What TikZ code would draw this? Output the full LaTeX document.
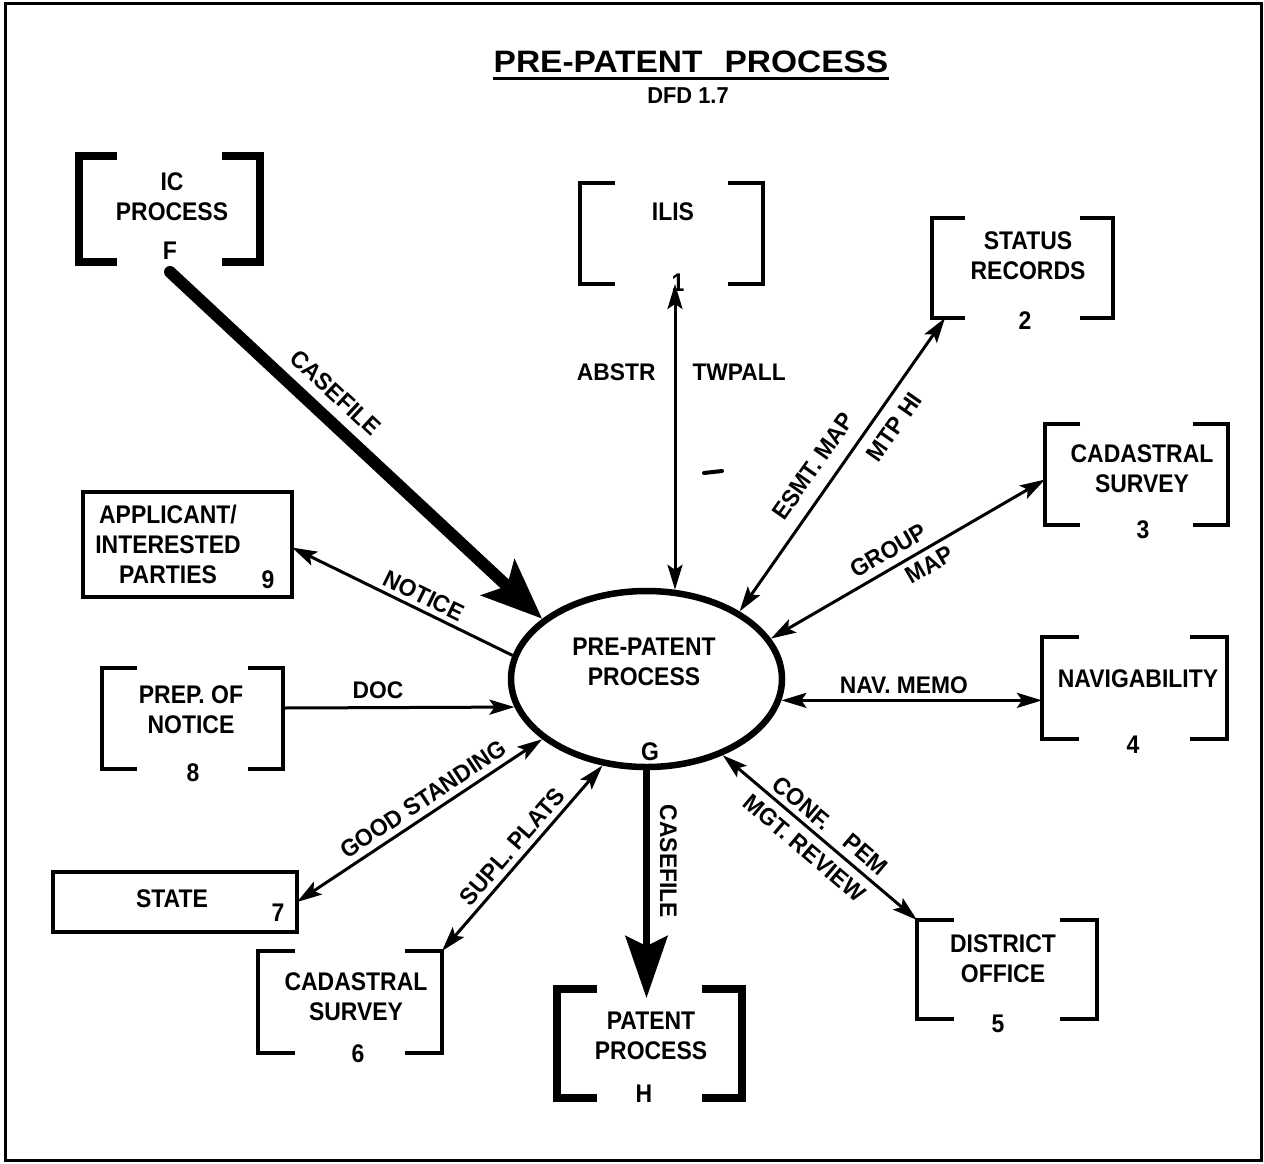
\documentclass[tikz,border=0pt]{standalone}
\usepackage{fontspec}
\setmainfont{Liberation Sans}
\newfontfamily\dfdfont{Liberation Sans Bold}[FakeStretch=0.95]
\newfontfamily\dfdboxfont{Liberation Sans Bold}[FakeStretch=0.9]
\newfontfamily\dfdtitlefont{Liberation Sans Bold}[FakeStretch=1.08]
\usetikzlibrary{arrows.meta,shapes.geometric}

% open-sided store symbol: two brackets around a node
\newcommand{\dfdbrackets}[3]{%
  \draw[line width=#3] ([xshift=#2]#1.north west) -| (#1.south west) -- ([xshift=#2]#1.south west);
  \draw[line width=#3] ([xshift=-#2]#1.north east) -| (#1.south east) -- ([xshift=-#2]#1.south east);}

\tikzset{
  lbl/.style={font=\dfdfont\fontsize{24}{30}\selectfont, inner sep=2pt, align=center},
  txt/.style={font=\dfdboxfont\fontsize{25.5}{30}\selectfont, inner sep=2pt, align=center},
  bbox/.style={inner sep=0pt, outer sep=0pt},
  rbox/.style={draw, line width=4pt, inner sep=0pt, outer sep=0pt},
  flow/.style={line width=3pt},
  >={Stealth[length=25pt,width=15pt,inset=5pt]}
}

\begin{document}
\begin{tikzpicture}[x=1pt,y=-1pt]
\useasboundingbox (0,0) rectangle (1264,1163);
\draw[line width=3pt] (5,3) rectangle (1261,1160);

% title
\node[font=\dfdtitlefont\fontsize{31}{31}\selectfont, inner sep=0pt] (title) at (691,62) {PRE-PATENT\hspace{22pt}PROCESS};
\draw[line width=3pt] ([yshift=-5pt]title.south west) -- ([yshift=-5pt]title.south east);
\node[font=\dfdfont\fontsize{23}{23}\selectfont, inner sep=0pt] (dfd) at (688,96) {DFD 1.7};

% central process
\node[ellipse, draw, line width=6.5pt, minimum width=271pt, minimum height=176pt, inner sep=0pt] (pp) at (646.5,679) {};
\node[txt] (ppt) at (644,661.5) {PRE-PATENT\\PROCESS};
\node[txt] (ppg) at (650,752) {G};

% stores and externals
\node[bbox, minimum width=181pt, minimum height=106pt] (ic) at (169.5,209) {};
\dfdbrackets{ic}{38pt}{8pt}
\node[txt] (ict) at (172,197) {IC\\PROCESS};
\node[txt] (icf) at (170,251) {F};

\node[bbox, minimum width=183pt, minimum height=101pt] (ilis) at (671.5,233.5) {};
\dfdbrackets{ilis}{35pt}{4pt}
\node[txt] (ilist) at (673,212) {ILIS};
\node[txt] (n1) at (678,283) {1};

\node[bbox, minimum width=181pt, minimum height=100pt] (status) at (1022.5,268) {};
\dfdbrackets{status}{33pt}{4pt}
\node[txt] (statust) at (1028,256) {STATUS\\RECORDS};
\node[txt] (n2) at (1025,321) {2};

\node[bbox, minimum width=183pt, minimum height=101pt] (cad3) at (1136.5,474.5) {};
\dfdbrackets{cad3}{35pt}{4pt}
\node[txt] (cad3t) at (1142,469) {CADASTRAL\\SURVEY};
\node[txt] (n3) at (1143,530) {3};

\node[bbox, minimum width=185pt, minimum height=102pt] (nav) at (1134.5,688) {};
\dfdbrackets{nav}{37pt}{4pt}
\node[txt] (navt) at (1138,679) {NAVIGABILITY};
\node[txt] (n4) at (1133,745) {4};

\node[bbox, minimum width=180pt, minimum height=99pt] (district) at (1007,969.5) {};
\dfdbrackets{district}{37pt}{4pt}
\node[txt] (districtt) at (1003,959) {DISTRICT\\OFFICE};
\node[txt] (n5) at (998,1024) {5};

\node[bbox, minimum width=185pt, minimum height=109pt] (patent) at (649.5,1043.5) {};
\dfdbrackets{patent}{40pt}{8pt}
\node[txt] (patentt) at (651,1036) {PATENT\\PROCESS};
\node[txt] (nh) at (644,1094) {H};

\node[bbox, minimum width=184pt, minimum height=102pt] (cad6) at (350,1002) {};
\dfdbrackets{cad6}{37pt}{4pt}
\node[txt] (cad6t) at (356,997) {CADASTRAL\\SURVEY};
\node[txt] (n6) at (358,1054) {6};

\node[rbox, minimum width=244pt, minimum height=60pt] (state) at (175,902) {};
\node[txt] (statet) at (172,899) {STATE};
\node[txt] (n7) at (278,913) {7};

\node[bbox, minimum width=181pt, minimum height=101pt] (prep) at (192.5,718.5) {};
\dfdbrackets{prep}{35pt}{4pt}
\node[txt] (prept) at (191,710) {PREP. OF\\NOTICE};
\node[txt] (n8) at (193,773) {8};

\node[rbox, minimum width=209pt, minimum height=105pt] (app) at (187.5,544.5) {};
\node[txt] (appt) at (168,544) {APPLICANT/\\INTERESTED\\PARTIES};
\node[txt] (n9) at (268,580) {9};

% connector end points
\path (ilis.south) ++(3.5,0) coordinate (ilisB);
\path (ilisB |- pp.north) ++(0,2) coordinate (ilisT);
\path (status.south west) ++(13,0) coordinate (statusB);
\path (cad3.west) ++(0,5) coordinate (cad3W);
\path (prep.east) ++(0,-10.5) coordinate (docS);
\path (app.east) ++(0,3) coordinate (appE);
\path (pp.south |- patent.north) ++(0,9) coordinate (patTip);
\path (icf.south) ++(0,10) coordinate (icS);

% data flows
\draw[line width=12pt, line cap=round, -{Stealth[length=60pt,width=48pt,inset=12pt]}]
  (icS) -- (pp.150)
  node[lbl, pos=.4, sloped, above=8pt] {CASEFILE};

\draw[flow, <->] (ilisB) -- (ilisT)
  node[lbl, pos=.29, left=16pt] {ABSTR}
  node[lbl, pos=.29, right=14pt] {TWPALL};

\draw[flow, <->] (pp.36) -- (statusB)
  node[lbl, pos=.45, sloped, above=11pt] {ESMT. MAP}
  node[lbl, pos=.67, sloped, below=9pt] {MTP HI};

\draw[flow, <->] (pp.18) -- (cad3W)
  node[lbl, pos=.46, sloped, above=5pt] {GROUP}
  node[lbl, pos=.55, sloped, below=4pt] {MAP};

\draw[flow, <->] (pp.-9) -- (pp.-9 -| nav.west)
  node[lbl, pos=.47, above=3pt] {NAV. MEMO};

\draw[flow, <->] (pp.-45) -- (district.north west)
  node[lbl, pos=.36, sloped, above=3pt] {CONF.}
  node[lbl, pos=.68, sloped, above=5pt] {PEM}
  node[lbl, pos=.48, sloped, below=6pt] {MGT. REVIEW};

\draw[line width=7pt, -{Stealth[length=62pt,width=42pt,inset=10pt]}] (pp.south) -- (patTip)
  node[lbl, pos=.40, rotate=-90, anchor=south, yshift=8pt] {CASEFILE};

\draw[flow, <->] (pp.-117) -- (cad6.north east)
  node[lbl, pos=.49, sloped, above=3pt] {SUPL. PLATS};

\draw[flow, <->] (pp.-150) -- (state.east)
  node[lbl, pos=.45, sloped, above=4pt] {GOOD STANDING};

\draw[flow, ->] (docS) -- (pp.192.8)
  node[lbl, pos=.41, above=5pt] {DOC};

\draw[flow, ->] (pp.170.5) -- (appE)
  node[lbl, pos=.43, sloped, above=3pt] {NOTICE};

% stray pen mark
\draw[line width=4pt, line cap=round] (704,473) -- (722,471);
\end{tikzpicture}
\end{document}
